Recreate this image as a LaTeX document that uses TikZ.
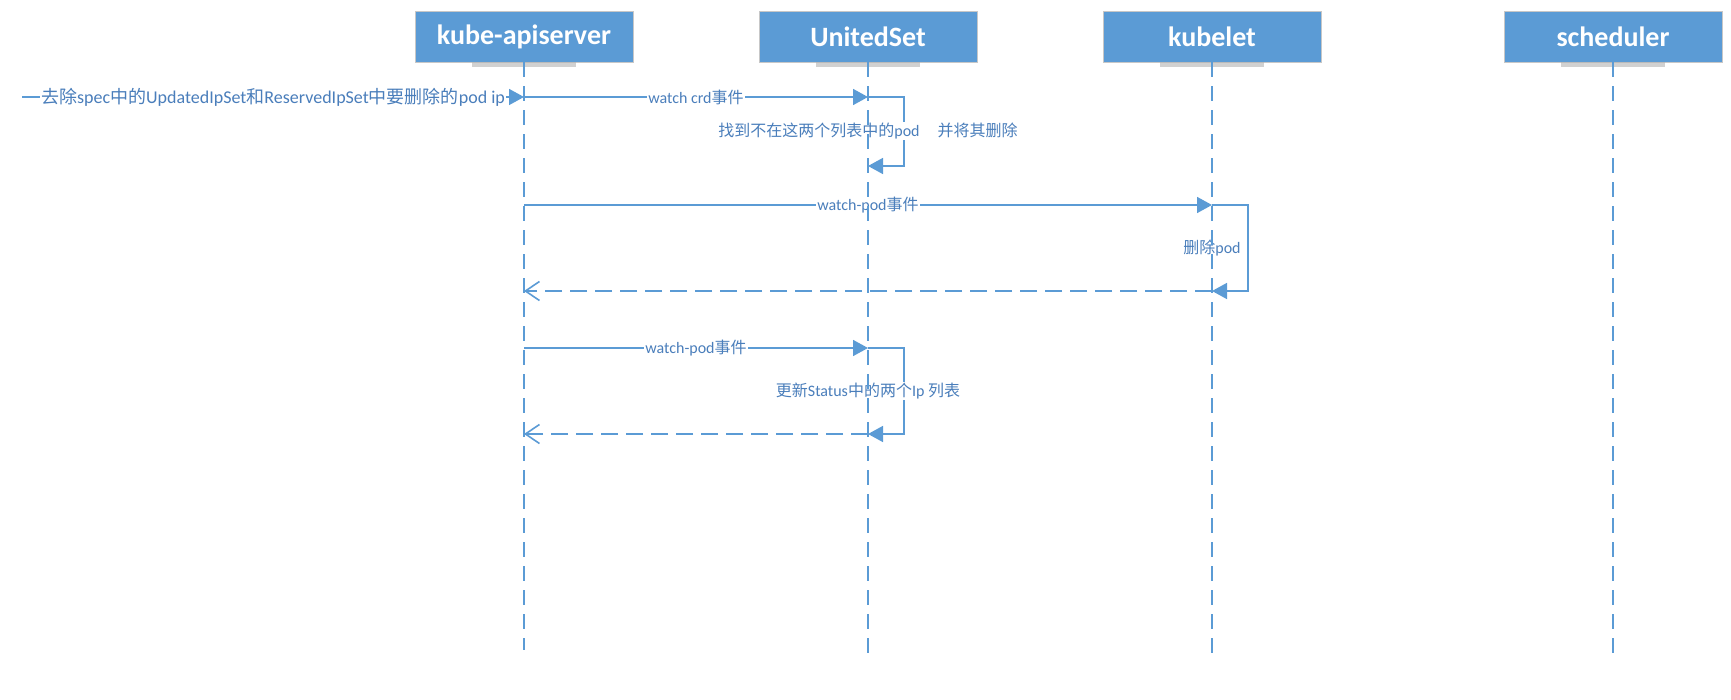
\documentclass[tikz,border=0pt]{standalone}
\usepackage{fontspec}
\setmainfont{Carlito}
\newfontfamily\cjk{Noto Sans CJK SC}
\usetikzlibrary{arrows.meta}
\definecolor{boxblue}{RGB}{91,155,213}
\definecolor{lineblue}{RGB}{91,155,213}
\definecolor{textblue}{RGB}{74,126,187}
\newcommand{\zh}[1]{{\cjk #1}}

\begin{document}
\begin{tikzpicture}[x=1pt,y=-1pt,
	header/.style={fill=boxblue,draw=black!22,line width=0.8pt,minimum width=218pt,minimum height=51pt,
		inner sep=0pt,text=white,font=\fontsize{28}{30}\selectfont\bfseries},
	headshadow/.style={fill=black!30,opacity=.6},
	lifeline/.style={draw=lineblue,line width=2pt,dash pattern=on 15pt off 9pt},
	msg/.style={draw=lineblue,line width=1.6pt,-{Triangle[length=15pt,width=16pt]}},
	reply/.style={draw=lineblue,line width=1.6pt,dash pattern=on 17pt off 8pt,-{Straight Barb[length=14pt,width=19pt]}},
	msglabel/.style={fill=white,text=textblue,inner xsep=1pt,inner ysep=1pt,font=\fontsize{16}{18}\selectfont}]
\useasboundingbox (0,0) rectangle (1731,700);

\node[header] (api) at (524,36.5) {kube-apiserver};
\node[header] (united) at (868,36.5) {UnitedSet};
\node[header] (kubelet) at (1212,36.5) {kubelet};
\node[header] (sched) at (1613,36.5) {scheduler};
\foreach \who in {api,united,kubelet,sched}
	\fill[headshadow] ([xshift=-52pt]\who.south) rectangle ([xshift=52pt,yshift=-5pt]\who.south);

\coordinate (found) at (22,97);
\coordinate (y1) at (0,97);
\coordinate (y1b) at (0,166);
\coordinate (lab1) at (0,131);
\coordinate (y2) at (0,205);
\coordinate (y2b) at (0,291);
\coordinate (lab2) at (0,248);
\coordinate (y3) at (0,348);
\coordinate (y3b) at (0,434);
\coordinate (lab3) at (0,391);

\draw[msg] (found) -- node[msglabel,font=\fontsize{18}{20}\selectfont]
	{\zh{去除}spec\zh{中的}UpdatedIpSet\zh{和}ReservedIpSet\zh{中要删除的}pod ip} (api |- y1);
\draw[msg] (api |- y1) -- node[msglabel] {watch crd\zh{事件}} (united |- y1);
\draw[msg] (united |- y1) -- ++(36,0) |- (united |- y1b);
\node[msglabel] at (united |- lab1) {\zh{找到不在这两个列表中的}pod\hspace{18pt}\zh{并将其删除}};

\draw[msg] (api |- y2) -- node[msglabel] {watch-pod\zh{事件}} (kubelet |- y2);
\draw[msg] (kubelet |- y2) -- ++(36,0) |- (kubelet |- y2b);
\node[msglabel] at (kubelet |- lab2) {\zh{删除}pod};
\draw[reply] (kubelet |- y2b) -- (api |- y2b);

\draw[msg] (api |- y3) -- node[msglabel] {watch-pod\zh{事件}} (united |- y3);
\draw[msg] (united |- y3) -- ++(36,0) |- (united |- y3b);
\node[msglabel] at (united |- lab3) {\zh{更新}Status\zh{中的两个}Ip \zh{列表}};
\draw[reply] (united |- y3b) -- (api |- y3b);

\foreach \who/\stop in {api/650,united/653,kubelet/659,sched/659}
	\draw[lifeline] (\who.south) -- ++(0,{\stop-62});
\end{tikzpicture}
\end{document}
